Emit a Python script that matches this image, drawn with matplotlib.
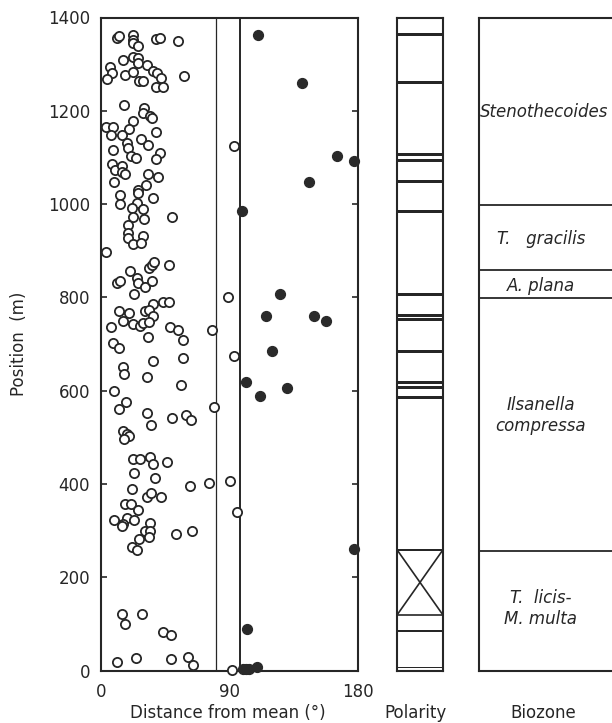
import matplotlib
matplotlib.use("Agg")
import matplotlib.pyplot as plt

# ---------------- data ----------------
open_deg = [11.0, 12.8, 22.2, 22.2, 22.2, 26.1, 38.3, 41.3, 54.2, 15.6, 22.6, 26.1, 26.1, 32.4,
            6.3, 7.5, 4.4, 16.8, 22.6, 36.7, 39.0, 42.0, 26.8, 29.2, 38.5, 43.2, 58.4, 16.3,
            30.4, 29.2, 34.3, 35.5, 22.2, 19.8, 3.3, 8.6, 6.8, 14.5, 18.0, 19.1, 28.0, 32.7,
            38.3, 8.6, 20.8, 24.3, 41.3, 38.5, 7.5, 9.8, 14.5, 14.5, 16.8, 33.2, 40.2, 9.1,
            31.5, 26.1, 26.1, 13.3, 13.3, 25.0, 21.5, 29.6, 36.7, 22.2, 30.1, 49.5, 19.1, 93.1,
            18.7, 18.7, 22.6, 29.6, 28.0, 3.5, 20.3, 25.0, 25.7, 11.0, 13.3, 30.8, 35.5, 23.1,
            33.9, 35.5, 37.4, 47.6, 43.7, 47.9, 36.2, 89.0, 12.8, 19.8, 30.8, 33.9, 36.2, 15.6,
            22.2, 27.3, 29.6, 33.9, 6.8, 48.3, 54.2, 77.7, 33.2, 57.2, 8.2, 12.8, 15.6, 16.1,
            36.2, 57.2, 32.5, 93.4, 55.8, 9.3, 17.5, 12.6, 32.0, 49.5, 59.3, 62.8, 35.0, 79.4,
            15.6, 18.0, 19.5, 16.3, 22.6, 27.3, 34.3, 36.6, 46.5, 23.1, 37.8, 21.5, 32.0, 35.0,
            41.8, 62.3, 75.6, 90.3, 95.0, 16.8, 20.8, 25.7, 9.1, 18.4, 23.3, 15.6, 14.9, 34.3,
            30.8, 34.3, 33.6, 26.8, 52.5, 64.0, 21.5, 25.4, 14.7, 29.0, 16.6, 43.4, 49.0, 11.0,
            24.3, 49.0, 60.7, 64.7, 91.5]
open_pos = [1355, 1361, 1363, 1352, 1345, 1339, 1353, 1355, 1350, 1309, 1316, 1313, 1302, 1298,
            1293, 1280, 1268, 1277, 1284, 1286, 1280, 1270, 1264, 1264, 1252, 1252, 1275, 1212,
            1207, 1195, 1189, 1184, 1179, 1161, 1166, 1166, 1148, 1148, 1130, 1121, 1139, 1127,
            1155, 1115, 1104, 1098, 1109, 1097, 1086, 1073, 1082, 1068, 1064, 1064, 1059, 1047,
            1041, 1030, 1023, 1020, 1000, 1003, 991, 989, 1012, 973, 967, 973, 955, 1124,
            937, 927, 915, 932, 916, 898, 857, 841, 830, 830, 834, 823, 835, 807,
            862, 869, 875, 869, 789, 789, 785, 801, 771, 766, 771, 773, 760, 750,
            743, 739, 744, 748, 737, 737, 731, 731, 714, 709, 703, 692, 651, 635,
            664, 669, 629, 675, 612, 600, 576, 560, 553, 542, 548, 537, 526, 565,
            513, 508, 502, 497, 453, 453, 458, 442, 446, 424, 412, 389, 373, 380,
            373, 395, 401, 407, 339, 356, 356, 344, 323, 326, 323, 315, 310, 317,
            300, 300, 287, 283, 293, 300, 265, 258, 121, 122, 99, 82, 76, 19,
            27, 25, 30, 12, 1]

filled_deg = [109.7, 141.0, 165.5, 177.0, 146.0, 98.7, 125.6, 115.5, 149.0, 157.6, 119.5,
              101.5, 130.5, 111.3, 177.4, 102.5, 99.5, 101.5, 103.5, 109.0]
filled_pos = [1362, 1259, 1104, 1092, 1047, 985, 807, 760, 760, 750, 686,
              618, 606, 589, 260, 88, 3, 3, 3, 8]

cone_limits = [80.5, 97.5]

# reversed-polarity bands (bottom, top) in m
rev_bottom = [1362, 1259, 1104, 1091, 1046, 982, 805, 759, 750, 682, 616, 605, 583, 257, 83, 6]
rev_top    = [1368, 1266, 1110, 1097, 1052, 988, 811, 765, 756, 688, 622, 611, 589, 262, 88, 9]
uncertain_interval = [120, 260]

zone_bounds = [0, 258, 800, 860, 1000, 1400]
zone_names = ["T.  licis-\nM. multa", "Ilsanella\ncompressa", "A. plana",
              "T.   gracilis", "Stenothecoides"]
zone_label_pos = [134, 547, 826, 926, 1198]

y_ticks = [0, 200, 400, 600, 800, 1000, 1200, 1400]
x_ticks = [0, 90, 180]

# ---------------- figure ----------------
ink = "#262626"
plt.rcParams['font.family'] = ['DejaVu Sans']
fig = plt.figure(figsize=(6.12, 7.23), dpi=100)
fig.patch.set_facecolor("white")

H = 723.0
W = 612.0
def rect(x0, x1, y0, y1):
    return [x0 / W, 1 - y1 / H, (x1 - x0) / W, (y1 - y0) / H]

ax = fig.add_axes(rect(101, 358, 17.5, 670.5))
ax.scatter(open_deg, open_pos, s=44, facecolors="white", edgecolors=ink,
           linewidths=1.3, clip_on=False, zorder=3)
ax.scatter(filled_deg, filled_pos, s=50, facecolors="#2a2a2a", edgecolors="#2a2a2a",
           linewidths=1.0, clip_on=False, zorder=4)
ax.axvline(cone_limits[0], color=ink, lw=0.9, zorder=2)
ax.axvline(cone_limits[1], color=ink, lw=1.4, zorder=2)
ax.set_xlim(0, 180)
ax.set_ylim(0, 1400)
ax.set_yticks(y_ticks)
ax.set_xticks(x_ticks)
ax.tick_params(axis="y", direction="in", length=4, width=1.2, left=True, right=True,
               labelsize=12, pad=8, colors=ink)
ax.tick_params(axis="x", direction="in", length=0, labelsize=12, pad=9, colors=ink)
for sp in ax.spines.values():
    sp.set_linewidth(1.5)
    sp.set_color(ink)
ax.set_ylabel("Position  (m)", fontsize=12, color=ink, labelpad=14)

# polarity column
axp = fig.add_axes(rect(397, 443, 18, 671))
axp.set_xlim(0, 1)
axp.set_ylim(0, 1400)
for b, t in zip(rev_bottom, rev_top):
    axp.axhspan(b, t, color=ink, lw=0)
u0, u1 = uncertain_interval
axp.plot([0, 1], [u0, u1], color=ink, lw=1.2)
axp.plot([0, 1], [u1, u0], color=ink, lw=1.2)
axp.axhline(u0, color=ink, lw=1.2)
axp.set_xticks([])
axp.set_yticks([])
for sp in axp.spines.values():
    sp.set_linewidth(1.5)
    sp.set_color(ink)

# biozone column
axb = fig.add_axes(rect(479, 640, 18, 671))
axb.set_xlim(0, 1)
axb.set_ylim(0, 1400)
for yb in zone_bounds[1:-1]:
    axb.axhline(yb, color=ink, lw=1.3)
for name, yc in zip(zone_names, zone_label_pos):
    if name == "Stenothecoides":
        axb.text(0.005, yc, name, ha="left", va="center", style="italic",
                 fontsize=12, color=ink)
    else:
        axb.text(0.385, yc, name, ha="center", va="center", style="italic",
                 fontsize=12, color=ink, linespacing=1.2)
axb.set_xticks([])
axb.set_yticks([])
for sp in axb.spines.values():
    sp.set_linewidth(1.5)
    sp.set_color(ink)

fig.text(228 / W, 1 - 713 / H, "Distance from mean (°)", ha="center", va="center",
         fontsize=12, color=ink)
fig.text(416 / W, 1 - 713 / H, "Polarity", ha="center", va="center", fontsize=12, color=ink)
fig.text(543 / W, 1 - 713 / H, "Biozone", ha="center", va="center", fontsize=12, color=ink)

fig.savefig("out.png", dpi=100, facecolor="white")
